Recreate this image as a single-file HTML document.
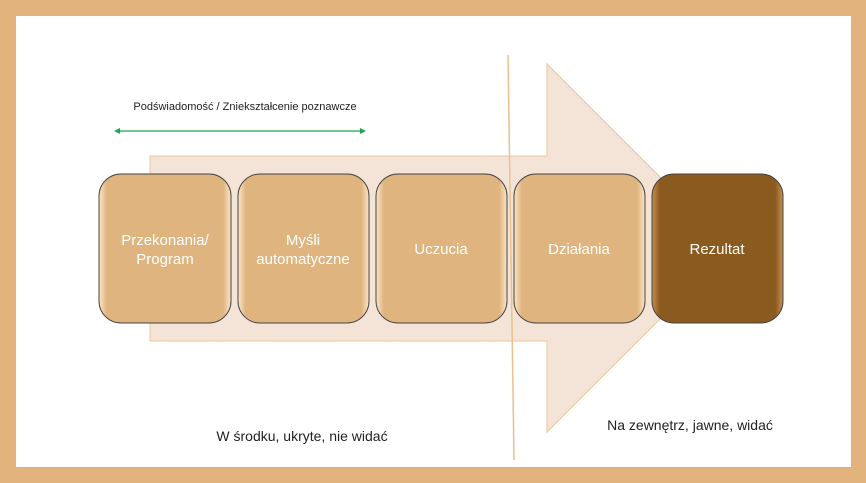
<!DOCTYPE html>
<html><head><meta charset="utf-8"><style>
body{margin:0;width:866px;height:483px;overflow:hidden;background:#E3B37E;font-family:"Liberation Sans",sans-serif}
</style></head><body>
<svg width="866" height="483" xmlns="http://www.w3.org/2000/svg" style="position:absolute;left:0;top:0">
<defs>
<linearGradient id="g1" x1="0" y1="0" x2="1" y2="0">
<stop offset="0" stop-color="#fbe6c8"/><stop offset="0.06" stop-color="#e0b47e"/><stop offset="0.94" stop-color="#e0b47e"/><stop offset="1" stop-color="#fbe6c8"/></linearGradient>
<linearGradient id="g2" x1="0" y1="0" x2="1" y2="0">
<stop offset="0" stop-color="#c89050"/><stop offset="0.06" stop-color="#8b5a1e"/><stop offset="0.94" stop-color="#8b5a1e"/><stop offset="1" stop-color="#c89050"/></linearGradient>
</defs>
<rect x="16" y="16" width="835" height="451" fill="#fff"/>
<polygon points="150,156 547,156 547,64 731,248 547,432 547,341 150,341" fill="#F4E4D8" stroke="#EAC89E" stroke-width="1"/>
<line x1="508" y1="55" x2="514" y2="460" stroke="#EAC08E" stroke-width="1.5"/>
<g stroke="#444" stroke-width="1">
<rect x="99" y="174" width="132" height="149" rx="22" fill="url(#g1)"/>
<rect x="238" y="174" width="131" height="149" rx="22" fill="url(#g1)"/>
<rect x="376" y="174" width="131" height="149" rx="22" fill="url(#g1)"/>
<rect x="514" y="174" width="131" height="149" rx="22" fill="url(#g1)"/>
<rect x="652" y="174" width="131" height="149" rx="22" fill="url(#g2)"/>
</g>
<g fill="#fff" font-size="15" text-anchor="middle" font-family="Liberation Sans,sans-serif">
<text x="165" y="245">Przekonania/</text><text x="165" y="264">Program</text>
<text x="303" y="245">Myśli</text><text x="303" y="264">automatyczne</text>
<text x="441" y="254">Uczucia</text>
<text x="579" y="254">Działania</text>
<text x="717" y="254">Rezultat</text>
</g>
<line x1="118" y1="131" x2="362" y2="131" stroke="#1aa84a" stroke-width="1.2"/>
<polygon points="114,131 120,128 120,134" fill="#1aa84a"/>
<polygon points="366,131 360,128 360,134" fill="#1aa84a"/>
<text x="245" y="110" font-size="11" text-anchor="middle" fill="#222">Podświadomość / Zniekształcenie poznawcze</text>
<text x="302" y="441" font-size="14" text-anchor="middle" fill="#222">W środku, ukryte, nie widać</text>
<text x="690" y="430" font-size="14" text-anchor="middle" fill="#222">Na zewnętrz, jawne, widać</text>
</svg>
</body></html>
